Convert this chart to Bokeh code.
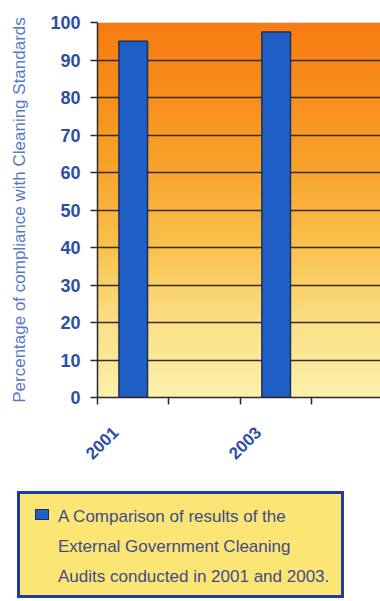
import numpy as np
from bokeh.plotting import figure
from bokeh.layouts import column
from bokeh.models import Range1d, FixedTicker, ColumnDataSource, Div
from bokeh.embed import file_html
from bokeh.resources import INLINE

# Audit results by year (no audit in 2002 or 2004)
years = ["2001", "2002", "2003", "2004"]
compliance = [95, np.nan, 97.5, np.nan]
y_ticks = [0, 10, 20, 30, 40, 50, 60, 70, 80, 90, 100]
legend_lines = ["A Comparison of results of the",
                "External Government Cleaning",
                "Audits conducted in 2001 and 2003."]

# Background gradient stops (value on the y axis -> colour)
grad_stops = [0, 20, 40, 60, 80, 100]
grad_colors = ["#fcf1ac", "#fbe085", "#f9c24e", "#f8a52e", "#f78f1f", "#f67c12"]

BAR_FILL = "#1f5fc6"
BAR_LINE = "#1b2f5c"

n = len(years)
slots = np.arange(n)
centers = slots + 0.5

p = figure(width=380, height=480, output_backend="svg", toolbar_location=None,
           x_range=Range1d(0, n * 0.99), y_range=Range1d(0, 100),
           min_border_left=97, min_border_right=0, min_border_top=22,
           min_border_bottom=83, background_fill_color="white",
           border_fill_color="white", margin=0)
p.outline_line_color = None

# gradient plot-area fill
def hex_rgb(h):
    return [int(h[i:i + 2], 16) for i in (1, 3, 5)]

rows = 300
yy = np.linspace(0, 100, rows)
rgb = np.array([np.interp(yy, grad_stops, [hex_rgb(c)[k] for c in grad_colors])
                for k in range(3)]).T.astype(np.uint32)
img = np.empty((rows, 1), dtype=np.uint32)
view = img.view(dtype=np.uint8).reshape((rows, 1, 4))
view[:, 0, 0] = rgb[:, 0]
view[:, 0, 1] = rgb[:, 1]
view[:, 0, 2] = rgb[:, 2]
view[:, 0, 3] = 255
bg = p.image_rgba(image=[img], x=0, y=0, dw=n, dh=100)
bg.level = "image"

src = ColumnDataSource(dict(x=centers, top=compliance))
bars = p.vbar(x="x", top="top", width=0.4, source=src, fill_color=BAR_FILL,
              line_color=BAR_LINE, line_width=1.5)

# y axis
p.yaxis.ticker = FixedTicker(ticks=y_ticks)
p.yaxis.minor_tick_line_color = None
p.yaxis.major_tick_in = 0
p.yaxis.major_tick_out = 7
p.yaxis.major_tick_line_color = "#2a2a2a"
p.yaxis.major_tick_line_width = 1.5
p.yaxis.axis_line_color = "#2a2a2a"
p.yaxis.axis_line_width = 1.5
p.yaxis.major_label_text_font = "Liberation Sans"
p.yaxis.major_label_text_font_style = "bold"
p.yaxis.major_label_text_font_size = "18px"
p.yaxis.major_label_text_color = "#2b4fa6"
p.yaxis.major_label_standoff = 10
p.yaxis.axis_label = "Percentage of compliance with Cleaning Standards"
p.yaxis.axis_label_text_font = "Liberation Sans"
p.yaxis.axis_label_text_font_style = "normal"
p.yaxis.axis_label_text_font_size = "17px"
p.yaxis.axis_label_text_color = "#5a78c6"
p.yaxis.axis_label_standoff = 18

# x axis: tick marks on slot boundaries, year labels beside each slot centre
label_pos = centers - 0.25
p.xaxis.ticker = FixedTicker(ticks=list(label_pos), minor_ticks=list(np.arange(n + 1)))
p.xaxis.major_label_overrides = {float(c): (y if not np.isnan(v) else "")
                                 for c, y, v in zip(label_pos, years, compliance)}
p.xaxis.major_tick_out = 0
p.xaxis.major_tick_in = 0
p.xaxis.minor_tick_out = 7
p.xaxis.minor_tick_in = 0
p.xaxis.minor_tick_line_color = "#2a2a2a"
p.xaxis.minor_tick_line_width = 1.5
p.xaxis.axis_line_color = "#2a2a2a"
p.xaxis.axis_line_width = 1.5
p.xaxis.major_label_orientation = np.pi / 4
p.xaxis.major_label_text_font = "Liberation Sans"
p.xaxis.major_label_text_font_style = "bold"
p.xaxis.major_label_text_font_size = "17px"
p.xaxis.major_label_text_color = "#2b4fa6"
p.xaxis.major_label_standoff = 25

p.xgrid.grid_line_color = None
p.ygrid.ticker = FixedTicker(ticks=y_ticks[1:-1])
p.ygrid.grid_line_color = "#3b2a16"
p.ygrid.grid_line_width = 1.5

# legend box below the chart
swatch = (f'<div style="position:absolute;left:15px;top:15px;width:14px;height:11px;'
          f'background:{BAR_FILL};border:1px solid {BAR_LINE};"></div>')
legend_html = (
    '<div style="position:absolute;left:17px;top:11px;width:327px;height:107px;'
    'box-sizing:border-box;border:3px solid #1f3c9a;background:#fbe574;'
    'padding:8px 0 0 38px;'
    'font-family:\'Liberation Sans\',Arial,sans-serif;font-size:17px;'
    'color:#3f4b88;line-height:30px;white-space:nowrap;">'
    + swatch + "<br>".join(legend_lines) + "</div>"
)
legend_div = Div(text=legend_html, width=380, height=121, margin=0,
                 styles={"position": "relative"})

layout = column(p, legend_div, spacing=0, margin=0)
open("out.html", "w").write(file_html(layout, INLINE))
